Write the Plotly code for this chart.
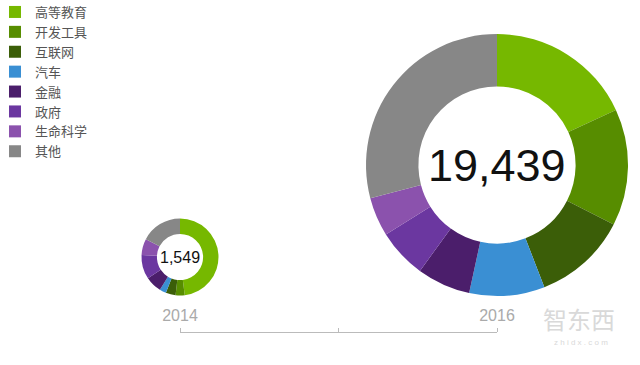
import plotly.graph_objects as go

categories = ["高等教育", "开发工具", "互联网", "汽车", "金融", "政府", "生命科学", "其他"]
colors = ["#76b800", "#578d00", "#3b5e08", "#3a8fd3", "#4b1e6b", "#6b37a0", "#8b52ad", "#878787"]
values_2014 = [744, 59, 64, 43, 107, 158, 105, 269]
values_2016 = [3520, 2800, 2255, 1808, 1283, 1186, 933, 5654]
years = [2014, 2015, 2016]
year_labels = ["2014", "", "2016"]
totals = ["1,549", "19,439"]

W, H = 640, 365

def dom(cx, cy, d):
    return dict(x=[(cx - d / 2) / W, (cx + d / 2) / W],
                y=[(H - cy - d / 2) / H, (H - cy + d / 2) / H])

d14 = dom(180, 257, 77)
d16 = dom(497, 165, 262)

fig = go.Figure()
fig.add_trace(go.Pie(labels=categories, values=values_2014, domain=d14, hole=0.6,
                     sort=False, direction="clockwise", rotation=0,
                     marker=dict(colors=colors, line=dict(width=0)),
                     textinfo="none", hoverinfo="skip", showlegend=True))
fig.add_trace(go.Pie(labels=categories, values=values_2016, domain=d16, hole=0.6,
                     sort=False, direction="clockwise", rotation=0,
                     marker=dict(colors=colors, line=dict(width=0)),
                     textinfo="none", hoverinfo="skip", showlegend=True))
fig.add_trace(go.Scatter(x=[years[0], years[-1]], y=[0, 0], mode="none",
                         showlegend=False, hoverinfo="skip"))

annotations = []
for dd, txt, size in [(d14, totals[0], 16), (d16, totals[1], 45)]:
    annotations.append(dict(x=sum(dd["x"]) / 2, y=sum(dd["y"]) / 2, xref="paper", yref="paper",
                            xanchor="center", yanchor="middle",
                            text=txt, showarrow=False,
                            font=dict(family="Liberation Sans", size=size, color="#111111")))
annotations.append(dict(x=579 / W, y=(H - 318) / H, xref="paper", yref="paper", text="智东西",
                        xanchor="center", yanchor="middle", showarrow=False,
                        font=dict(family="Noto Sans CJK SC", size=24, color="#d9d9d9")))
annotations.append(dict(x=581 / W, y=(H - 342) / H, xref="paper", yref="paper", text="z h i d x . c o m",
                        xanchor="center", yanchor="middle", showarrow=False,
                        font=dict(family="Liberation Sans", size=8, color="#d9d9d9")))

fig.update_layout(
    width=W, height=H,
    margin=dict(l=0, r=0, t=0, b=0, pad=0, autoexpand=False),
    paper_bgcolor="white", plot_bgcolor="white",
    legend=dict(x=-5 / W, y=1 + 3 / H, xanchor="left", yanchor="top",
                font=dict(family="Noto Sans CJK SC", size=13, color="#555555"),
                bgcolor="rgba(0,0,0,0)"),
    xaxis=dict(domain=[180 / W, 497 / W], range=[years[0], years[-1]], side="top",
               tickmode="array", tickvals=years, ticktext=year_labels,
               ticks="outside", ticklen=4, tickcolor="#bbbbbb", tickwidth=1,
               showline=True, linecolor="#bbbbbb", linewidth=1,
               showgrid=False, zeroline=False, automargin=False,
               tickfont=dict(family="Liberation Sans", size=16, color="#aaaaaa")),
    yaxis=dict(domain=[0, (H - 332.5) / H], visible=False, range=[0, 1], automargin=False),
    annotations=annotations,
    hovermode=False,
)

fig.write_html("out.html", config={"displayModeBar": False, "staticPlot": True},
               post_script="document.body.style.margin='0';document.body.style.padding='0';document.documentElement.style.overflow='hidden';")
